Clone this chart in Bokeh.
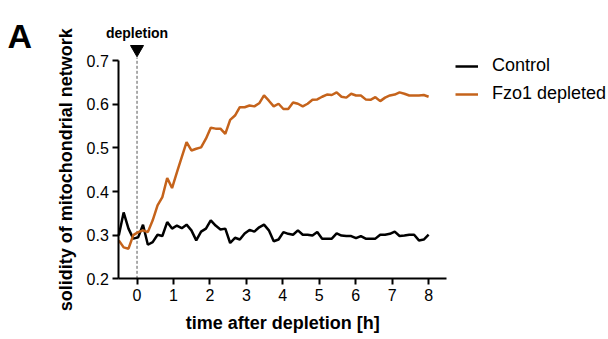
import math
from bokeh.plotting import figure
from bokeh.models import Range1d, FixedTicker, Legend, LegendItem, Label, LinearAxis
from bokeh.core.properties import value
from bokeh.embed import file_html
from bokeh.resources import INLINE

# time after depletion [h]
time_h = [-0.500, -0.367, -0.234, -0.102, 0.031, 0.164, 0.297, 0.430, 0.563, 0.695,
          0.828, 0.961, 1.094, 1.227, 1.359, 1.492, 1.625, 1.758, 1.891, 2.023,
          2.156, 2.289, 2.422, 2.555, 2.688, 2.820, 2.953, 3.086, 3.219, 3.352,
          3.484, 3.617, 3.750, 3.883, 4.016, 4.148, 4.281, 4.414, 4.547, 4.680,
          4.813, 4.945, 5.078, 5.211, 5.344, 5.477, 5.609, 5.742, 5.875, 6.008,
          6.141, 6.273, 6.406, 6.539, 6.672, 6.805, 6.938, 7.070, 7.203, 7.336,
          7.469, 7.602, 7.734, 7.867, 8.000]

control = [0.299, 0.352, 0.315, 0.292, 0.295, 0.324, 0.278, 0.284, 0.301, 0.298,
           0.330, 0.315, 0.322, 0.316, 0.324, 0.311, 0.288, 0.308, 0.315, 0.334,
           0.322, 0.313, 0.315, 0.282, 0.294, 0.290, 0.304, 0.312, 0.308, 0.318,
           0.324, 0.311, 0.286, 0.290, 0.307, 0.303, 0.301, 0.311, 0.301, 0.301,
           0.299, 0.307, 0.292, 0.292, 0.292, 0.304, 0.299, 0.298, 0.298, 0.293,
           0.298, 0.292, 0.292, 0.292, 0.301, 0.301, 0.303, 0.308, 0.298, 0.299,
           0.301, 0.301, 0.288, 0.290, 0.301]

fzo1_depleted = [0.288, 0.272, 0.269, 0.300, 0.307, 0.311, 0.307, 0.334, 0.368, 0.387,
                 0.431, 0.408, 0.444, 0.479, 0.513, 0.494, 0.498, 0.501, 0.521, 0.546,
                 0.544, 0.544, 0.532, 0.564, 0.574, 0.593, 0.593, 0.597, 0.595, 0.602,
                 0.620, 0.608, 0.595, 0.601, 0.589, 0.589, 0.604, 0.601, 0.595, 0.601,
                 0.610, 0.611, 0.617, 0.622, 0.621, 0.627, 0.617, 0.615, 0.624, 0.620,
                 0.620, 0.611, 0.610, 0.616, 0.607, 0.615, 0.620, 0.622, 0.627, 0.624,
                 0.620, 0.620, 0.620, 0.621, 0.617]

x_ticks = [0, 1, 2, 3, 4, 5, 6, 7, 8]
y_ticks = [0.2, 0.3, 0.4, 0.5, 0.6, 0.7]
x_axis_span = (-0.5, 8.5)
y_axis_span = (0.2, 0.7)
depletion_time = 0.0

FONT = "Liberation Sans"
ORANGE = "#C5631B"
W, H = 608, 339

# the frame fills the whole canvas; axes are drawn at fixed data locations
p = figure(width=W, height=H,
           x_range=Range1d(-3.7455, 12.935), y_range=Range1d(0.061, 0.8375),
           output_backend="svg", toolbar_location=None,
           x_axis_location=None, y_axis_location=None,
           min_border=0)
p.min_border_left = 0
p.min_border_right = 0
p.min_border_top = 0
p.min_border_bottom = 0
p.outline_line_color = None
p.xgrid.grid_line_color = None
p.ygrid.grid_line_color = None
p.background_fill_color = "white"

xaxis = LinearAxis(fixed_location=y_axis_span[0], bounds=x_axis_span,
                   ticker=FixedTicker(ticks=x_ticks))
yaxis = LinearAxis(fixed_location=x_axis_span[0], bounds=y_axis_span,
                   ticker=FixedTicker(ticks=y_ticks))
for ax in (xaxis, yaxis):
    ax.axis_line_width = 2
    ax.axis_line_color = "black"
    ax.major_tick_line_width = 2
    ax.major_tick_line_color = "black"
    ax.major_tick_out = 6
    ax.major_tick_in = 0
    ax.minor_tick_line_color = None
    ax.major_label_text_font = FONT
    ax.major_label_text_font_size = "16px"
    ax.major_label_text_color = "black"
    ax.major_label_standoff = 4
p.add_layout(xaxis, "below")
p.add_layout(yaxis, "left")

# axis titles
p.add_layout(Label(x=(x_axis_span[0] + x_axis_span[1]) / 2, y=H - 322,
                   x_units="data", y_units="screen",
                   text="time after depletion [h]", text_align="center",
                   text_baseline="middle", text_font=FONT, text_font_size="18px",
                   text_font_style="bold", text_color="black"))
p.add_layout(Label(x=65, y=(y_axis_span[0] + y_axis_span[1]) / 2,
                   x_units="screen", y_units="data", angle=math.pi / 2,
                   text="solidity of mitochondrial network", text_align="center",
                   text_baseline="middle", text_font=FONT, text_font_size="18px",
                   text_font_style="bold", text_color="black"))

# depletion marker
p.segment(x0=[depletion_time], y0=[y_axis_span[0]], x1=[depletion_time], y1=[0.707],
          line_color="#555555", line_width=1, line_dash="3 2")
p.scatter(x=[depletion_time], y=[0.7258], marker="inverted_triangle", size=13,
          fill_color="black", line_color="black")
p.add_layout(Label(x=depletion_time, y=H - 32, x_units="data", y_units="screen",
                   text="depletion", text_align="center", text_baseline="middle",
                   text_font=FONT, text_font_size="14px", text_font_style="bold",
                   text_color="black"))

r_ctrl = p.line(time_h, control, line_color="black", line_width=2.5)
r_fzo = p.line(time_h, fzo1_depleted, line_color=ORANGE, line_width=2.5)

legend = Legend(items=[LegendItem(label="Control", renderers=[r_ctrl]),
                       LegendItem(label="Fzo1 depleted", renderers=[r_fzo])],
                location=(455, H - 104), orientation="vertical")
legend.label_text_font = FONT
legend.label_text_font_size = "18px"
legend.label_text_color = "black"
legend.glyph_width = 23
legend.glyph_height = 20
legend.label_height = 20
legend.spacing = 7
legend.label_standoff = 14
legend.padding = 0
legend.margin = 0
legend.border_line_color = None
legend.background_fill_alpha = 0
p.add_layout(legend)

p.add_layout(Label(x=7, y=H - 35, x_units="screen", y_units="screen", text="A",
                   text_font=FONT, text_font_size="34px", text_font_style="bold",
                   text_color="black", text_baseline="alphabetic"))

open("out.html", "w").write(file_html(p, INLINE))
